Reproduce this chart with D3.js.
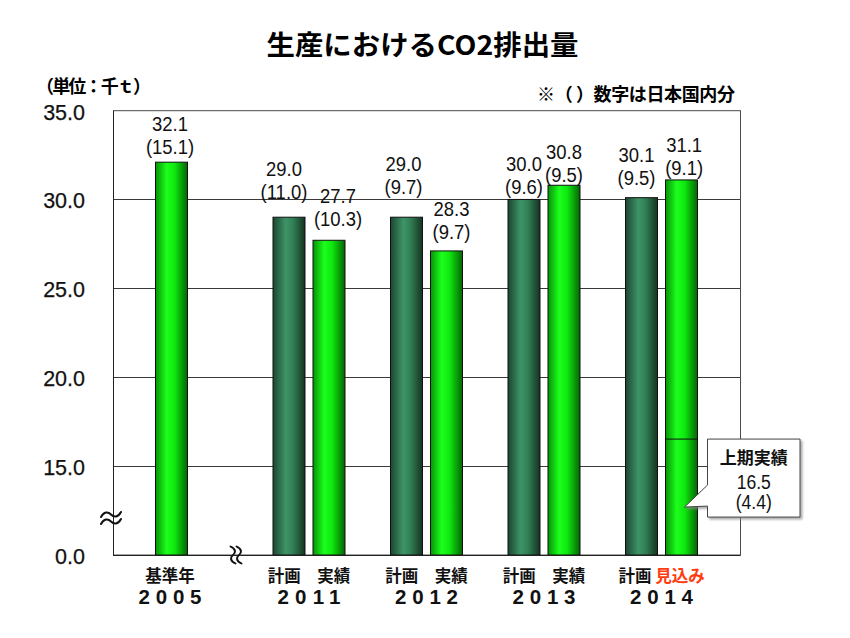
<!DOCTYPE html>
<html><head><meta charset="utf-8">
<script src="https://cdn.jsdelivr.net/npm/d3@7"></script>
<style>
body{margin:0;background:#fff;}
text{font-family:"Liberation Sans","Noto Sans CJK JP",sans-serif;}
.cjk{font-family:"Noto Sans CJK JP","Liberation Sans",sans-serif;}
</style></head>
<body>
<svg id="c" width="850" height="638"></svg>
<script>
// ---- data ----
const groups = ['2005', '2011', '2012', '2013', '2014'];
const yearLabels = ['2005', '2011', '2012', '2013', '2014'];
const planNames = [null, '計画', '計画', '計画', '計画'];
const actualNames = ['基準年', '実績', '実績', '実績', '見込み'];
const planValues = [null, 29.0, 29.0, 30.0, 30.1];
const planDomestic = [null, 11.0, 9.7, 9.6, 9.5];
const actualValues = [32.1, 27.7, 27.1, 30.8, 31.1];      // bar heights as drawn
const actualLabels = ['32.1', '27.7', '28.3', '30.8', '31.1'];
const actualDomestic = [15.1, 10.3, 9.7, 9.5, 9.1];
const firstHalfValue = 16.5;   // 2014 上期実績
const firstHalfDomestic = 4.4;
const yTicks = [0, 15, 20, 25, 30, 35];
const gridTicks = [15, 20, 25, 30];
// label layout (lift of 2nd line above bar top, horizontal nudge)
const planLabelLift = [null, 26, 31, 13, 20];
const planLabelDx = [null, -5, -3, 0, -5];
const actualLabelLift = [16, 22, 19, 11, 12];
const actualLabelDx = [-1.5, 9, 5, 0, 2.6];

// ---- layout ----
const svg = d3.select('#c');
const L = 113, R = 740, T = 110.7, B = 555;
const y = d3.scaleLinear().domain([0, 15, 35]).range([B, 465.7, T]);
const xg = d3.scalePoint().domain(groups).range([L, R]).padding(0.668);
const xs = d3.scaleBand().domain(['plan', 'actual']).range([-36, 36]).paddingInner(0.2);
const bw = xs.bandwidth();

// gradients
const defs = svg.append('defs');
function grad(id, stops) {
  const g = defs.append('linearGradient').attr('id', id).attr('x1', '0').attr('x2', '1').attr('y1', '0').attr('y2', '0');
  stops.forEach(s => g.append('stop').attr('offset', s[0]).attr('stop-color', s[1]));
}
grad('gPlan', [[0, '#1c4630'], [0.4, '#3d9467'], [0.62, '#318055'], [1, '#163322']]);
grad('gAct', [[0, '#079207'], [0.35, '#1cff1c'], [0.6, '#0ee80e'], [1, '#056405']]);
const shadow = defs.append('filter').attr('id', 'sh').attr('x', '-10%').attr('y', '-10%').attr('width', '130%').attr('height', '130%');
shadow.append('feDropShadow').attr('dx', 2).attr('dy', 2).attr('stdDeviation', 1).attr('flood-color', '#888').attr('flood-opacity', 0.7);

// title
svg.append('text').attr('class', 'cjk').attr('x', 422.5).attr('y', 45).attr('dy', '0.36em')
  .attr('text-anchor', 'middle').attr('font-size', 27).attr('font-weight', 'bold')
  .attr('textLength', 312).attr('lengthAdjust', 'spacingAndGlyphs').text('生産におけるCO2排出量');
svg.append('text').attr('class', 'cjk').attr('x', 36).attr('y', 87).attr('dy', '0.36em')
  .attr('font-size', 18).attr('font-weight', 'bold')
  .attr('textLength', 115).attr('lengthAdjust', 'spacing').text('（単位：千ｔ）');
svg.append('text').attr('class', 'cjk').attr('x', 735).attr('y', 95).attr('dy', '0.36em')
  .attr('text-anchor', 'end').attr('font-size', 18).attr('font-weight', 'bold')
  .attr('textLength', 198).attr('lengthAdjust', 'spacing').text('※（ ）数字は日本国内分');

// frame + grid
svg.append('rect').attr('x', L + 0.5).attr('y', T).attr('width', R - L).attr('height', B - T)
  .attr('fill', '#fff').attr('stroke', '#4a4a4a').attr('stroke-width', 1);
svg.selectAll('.grid').data(gridTicks).join('line').attr('class', 'grid')
  .attr('x1', L).attr('x2', R).attr('y1', d => Math.round(y(d)) + 0.5).attr('y2', d => Math.round(y(d)) + 0.5)
  .attr('stroke', '#3a3a3a').attr('stroke-width', 1);

// y axis
const ax = svg.append('g').attr('transform', `translate(${L},1.5)`)
  .call(d3.axisLeft(y).tickValues(yTicks).tickSize(0).tickPadding(28).tickFormat(d3.format('.1f')));
ax.select('.domain').remove();
ax.selectAll('text').attr('font-size', 21.5).attr('fill', '#111')
  .attr('font-family', '"Liberation Sans",sans-serif').attr('stroke', '#111').attr('stroke-width', 0.25);

// bars
const bars = [];
groups.forEach((g, i) => {
  if (planValues[i] != null) bars.push({ g, i, slot: 'plan', kind: 'plan', v: planValues[i], lab: d3.format('.1f')(planValues[i]), dom: planDomestic[i], lift: planLabelLift[i], dx: planLabelDx[i] });
  bars.push({ g, i, slot: planValues[i] == null ? 'plan' : 'actual', kind: 'act', v: actualValues[i], lab: actualLabels[i], dom: actualDomestic[i], lift: actualLabelLift[i], dx: actualLabelDx[i] });
});
const bx = d => xg(d.g) + xs(d.slot);
svg.selectAll('.bar').data(bars).join('rect').attr('class', 'bar')
  .attr('x', d => bx(d)).attr('width', bw)
  .attr('y', d => y(d.v)).attr('height', d => B - y(d.v))
  .attr('fill', d => d.kind === 'plan' ? 'url(#gPlan)' : 'url(#gAct)')
  .attr('stroke', '#111').attr('stroke-width', 1);

// first-half segment in 2014 actual bar
const lastAct = bars[bars.length - 1];
svg.append('rect').attr('x', bx(lastAct)).attr('width', bw)
  .attr('y', y(firstHalfValue)).attr('height', B - y(firstHalfValue))
  .attr('fill', 'url(#gAct)').attr('stroke', '#111').attr('stroke-width', 1);

// bottom axis line
svg.append('line').attr('x1', L).attr('x2', R + 0.5).attr('y1', B + 0.5).attr('y2', B + 0.5)
  .attr('stroke', '#222').attr('stroke-width', 1.2);
svg.append('line').attr('x1', L + 0.5).attr('x2', L + 0.5).attr('y1', T).attr('y2', B)
  .attr('stroke', '#222').attr('stroke-width', 1);

// value labels
const lbl = svg.selectAll('.vl').data(bars).join('g').attr('class', 'vl')
  .attr('transform', d => `translate(${bx(d) + bw / 2 + d.dx},${y(d.v) - d.lift}) scale(0.9,1)`);
lbl.append('text').attr('text-anchor', 'middle').attr('y', -23).attr('dy', '0.36em')
  .attr('font-size', 20.5).attr('fill', '#111').text(d => d.lab);
lbl.append('text').attr('text-anchor', 'middle').attr('y', 0).attr('dy', '0.36em')
  .attr('font-size', 20.5).attr('fill', '#111').text(d => `(${d3.format('.1f')(d.dom)})`);

// category labels
groups.forEach((g, i) => {
  const cx = planValues[i] == null ? xg(g) + xs('plan') + bw / 2 - 1.5 : xg(g);
  const t = svg.append('text').attr('class', 'cjk').attr('x', cx).attr('y', 576.5).attr('dy', '0.36em')
    .attr('text-anchor', 'middle').attr('font-size', 16.5).attr('font-weight', 'bold');
  if (planNames[i] != null) {
    const red = actualNames[i] === '見込み';
    t.append('tspan').attr('fill', '#111').text(planNames[i] + (red ? ' ' : '　'));
    t.append('tspan').attr('fill', red ? '#ff3c10' : '#111').text(actualNames[i]);
  } else {
    t.attr('fill', '#111').text(actualNames[i]);
  }
  svg.append('text').attr('x', cx).attr('y', 597).attr('dy', '0.36em')
    .attr('text-anchor', 'middle').attr('font-size', 20.5).attr('font-weight', 'bold')
    .attr('textLength', 63).attr('lengthAdjust', 'spacing').attr('fill', '#111').text(yearLabels[i]);
});

// axis break marks (drawn wavy strokes)
const tilde = 'M-10,2.5 C-7,-3 -3,-3 0,0 S7,3 10,-2.5';
const brk = svg.append('g').attr('fill', 'none').attr('stroke', '#111').attr('stroke-width', 2).attr('stroke-linecap', 'round');
[-3.5, 3.5].forEach(o => brk.append('path').attr('d', tilde).attr('transform', `translate(${L - 2},${518 + o})`));
[-3, 3].forEach(o => brk.append('path').attr('d', tilde)
  .attr('transform', `translate(${236 + o},${B})rotate(90) scale(0.85,1)`));

// callout for first half
const bl = bx(lastAct) + bw + 10, bt = y(firstHalfValue), br = bl + 92.5, bb = bt + 78;
const tipX = bx(lastAct) + bw / 2 + 3, tipY = bb - 10;
svg.append('path').attr('d', `M${bl},${bt}H${br}V${bb}H${bl}V${bb - 11}L${tipX},${tipY}L${bl},${bt + 46}Z`)
  .attr('fill', '#fff').attr('stroke', '#444').attr('stroke-width', 1).attr('filter', 'url(#sh)');
const cxm = (bl + br) / 2;
svg.append('text').attr('class', 'cjk').attr('x', cxm).attr('y', bt + 19).attr('dy', '0.36em').attr('text-anchor', 'middle')
  .attr('font-size', 17).attr('font-weight', 'bold').attr('fill', '#111').text('上期実績');
svg.append('g').attr('transform', `translate(${cxm},0) scale(0.9,1)`).selectAll('text')
  .data([[bt + 43, d3.format('.1f')(firstHalfValue)], [bt + 63, `(${d3.format('.1f')(firstHalfDomestic)})`]])
  .join('text').attr('x', 0).attr('y', d => d[0]).attr('dy', '0.36em').attr('text-anchor', 'middle')
  .attr('font-size', 19.5).attr('fill', '#111').text(d => d[1]);
</script>
</body></html>
